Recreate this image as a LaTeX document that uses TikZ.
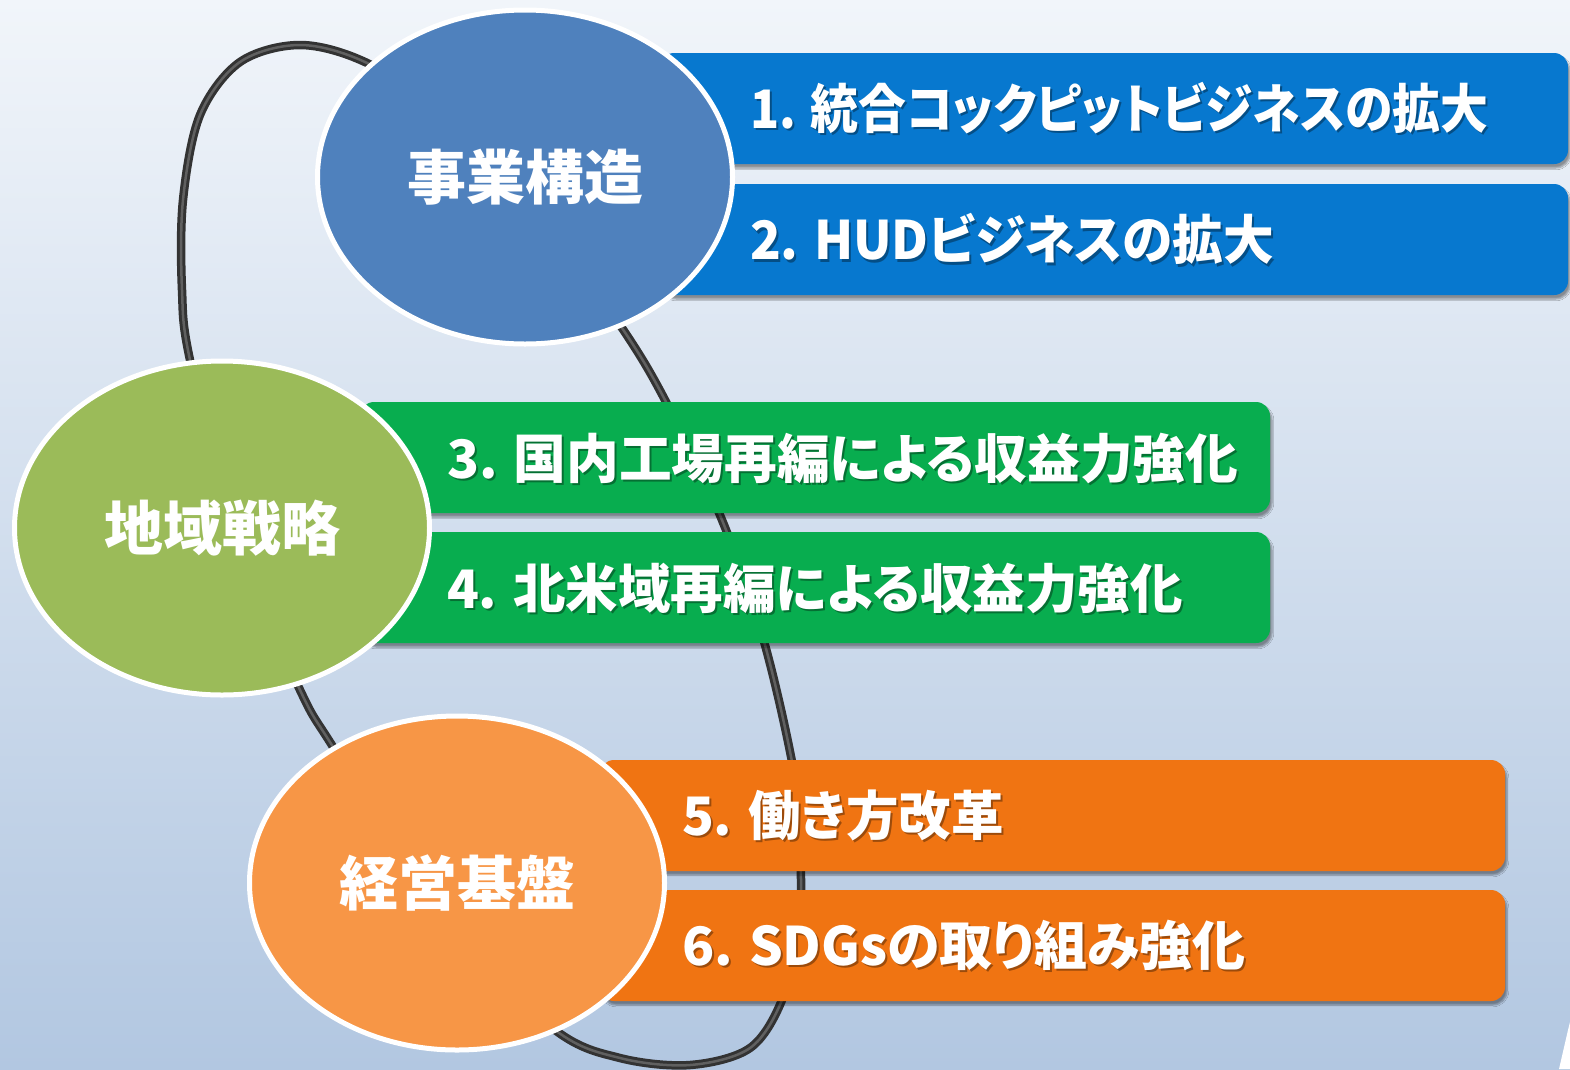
\documentclass[tikz,border=0pt]{standalone}
\usepackage{fontspec}
\usetikzlibrary{shapes.geometric,shadows,shadows.blur}
\newfontfamily\jpfont[RawFeature=+palt]{Noto Sans CJK JP}
\definecolor{bgtop}{HTML}{F1F5FA}
\definecolor{bgbot}{HTML}{B2C7E1}
\definecolor{ellA}{HTML}{4F81BD}
\definecolor{ellB}{HTML}{9BBB59}
\definecolor{ellC}{HTML}{F79646}
\definecolor{barA}{HTML}{0778CF}
\definecolor{barB}{HTML}{08AD4F}
\definecolor{barC}{HTML}{F07412}
\definecolor{loopdark}{HTML}{333333}
\definecolor{looplight}{HTML}{606060}
\newcommand\sx[2]{\scalebox{#1}[1]{#2}}
\begin{document}
\begin{tikzpicture}[x=1pt,y=-1pt,
  every node/.style={inner sep=0pt, outer sep=0pt},
  barbox/.style={rectangle, rounded corners=14pt, minimum height=111pt, anchor=north west,
    blur shadow={shadow xshift=2pt, shadow yshift=-4pt, shadow opacity=40, shadow blur steps=6}},
  oval/.style={ellipse, draw=white, line width=5pt, text=white,
    font=\jpfont\bfseries\fontsize{59}{62}\selectfont, minimum width=415pt, minimum height=334pt},
  bartxt/.style={anchor=west, text=white, font=\jpfont\bfseries\fontsize{53}{58}\selectfont},
  txtshadow/.style={bartxt, text=black, opacity=0.35, xshift=2pt, yshift=-2.5pt},
  looptube/.style={line width=8.5pt, draw=loopdark},
  loopshine/.style={line width=2.5pt, draw=looplight}]
\useasboundingbox (0,0) rectangle (1570,1069);
\fill[top color=bgtop, bottom color=bgbot] (0,0) rectangle (1570,1069);
\fill[white] (1568,1030) -- (1570,1022) -- (1570,1069) -- (1559,1069) -- cycle;
% loop
\def\looppath{plot[smooth cycle, tension=0.55] coordinates {
  (365,62) (300,45) (240,62) (200,115) (183,200) (182,290) (190,360)
  (235,540) (300,690) (335,750) (450,930) (555,1030) (620,1058) (690,1065)
  (750,1048) (782,1000) (799,930) (801,880) (797,790) (765,645) (722,520)
  (665,400) (620,325) (540,215) (440,110)}}
\draw[looptube] \looppath;
\draw[loopshine] \looppath;
% bars
\node[barbox, fill=barA, minimum width=908pt] (b1) at (660,53) {};
\node[barbox, fill=barA, minimum width=908pt] (b2) at (660,184) {};
\node[barbox, fill=barB, minimum width=910pt] (b3) at (360,402) {};
\node[barbox, fill=barB, minimum width=910pt] (b4) at (360,532) {};
\node[barbox, fill=barC, minimum width=905pt] (b5) at (600,760) {};
\node[barbox, fill=barC, minimum width=905pt] (b6) at (600,890) {};
% bar texts
\node[txtshadow] (t1s) at (750,108) {\sx{0.903}{1. 統合コックピットビジネスの拡大}};
\node[bartxt] (t1) at (750,108) {\sx{0.903}{1. 統合コックピットビジネスの拡大}};
\node[txtshadow] (t2s) at (750,239) {\sx{0.956}{2. HUDビジネスの拡大}};
\node[bartxt] (t2) at (750,239) {\sx{0.956}{2. HUDビジネスの拡大}};
\node[txtshadow] (t3s) at (447,458) {\sx{0.994}{3. 国内工場再編による収益力強化}};
\node[bartxt] (t3) at (447,458) {\sx{0.994}{3. 国内工場再編による収益力強化}};
\node[txtshadow] (t4s) at (447,588) {\sx{0.99}{4. 北米域再編による収益力強化}};
\node[bartxt] (t4) at (447,588) {\sx{0.99}{4. 北米域再編による収益力強化}};
\node[txtshadow] (t5s) at (682,815) {\sx{0.99}{5. 働き方改革}};
\node[bartxt] (t5) at (682,815) {\sx{0.99}{5. 働き方改革}};
\node[txtshadow] (t6s) at (682,945) {6. SDGsの取り組み強化};
\node[bartxt] (t6) at (682,945) {6. SDGsの取り組み強化};
% ellipses
\node[oval, fill=ellA] (e1) at (525,177) {事業構造};
\node[oval, fill=ellB] (e2) at (222,528) {地域戦略};
\node[oval, fill=ellC] (e3) at (457,883) {経営基盤};
\end{tikzpicture}
\end{document}
